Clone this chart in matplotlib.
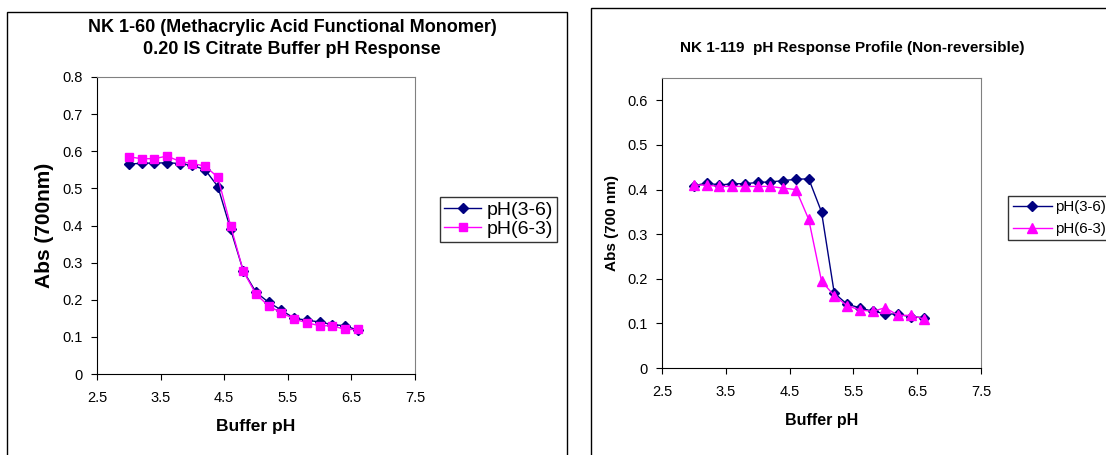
import matplotlib.pyplot as plt
from matplotlib.patches import Rectangle

plt.rcParams['font.family'] = ['Liberation Sans', 'DejaVu Sans']

ph = [3.0, 3.2, 3.4, 3.6, 3.8, 4.0, 4.2, 4.4, 4.6, 4.8, 5.0, 5.2, 5.4, 5.6, 5.8, 6.0, 6.2, 6.4, 6.6]

# NK 1-60
nk60_up = [0.565, 0.568, 0.568, 0.569, 0.567, 0.562, 0.55, 0.505, 0.39, 0.278, 0.22,
           0.193, 0.172, 0.15, 0.145, 0.14, 0.133, 0.13, 0.118]
nk60_down = [0.585, 0.58, 0.58, 0.587, 0.573, 0.567, 0.56, 0.53, 0.4, 0.277, 0.215,
             0.183, 0.165, 0.148, 0.138, 0.13, 0.13, 0.12, 0.12]

# NK 1-119
nk119_up = [0.408, 0.415, 0.41, 0.413, 0.413, 0.416, 0.417, 0.42, 0.423, 0.424, 0.35,
            0.168, 0.143, 0.135, 0.127, 0.122, 0.12, 0.115, 0.113]
nk119_down = [0.41, 0.41, 0.407, 0.407, 0.407, 0.407, 0.407, 0.403, 0.4, 0.333, 0.195,
              0.162, 0.14, 0.13, 0.127, 0.135, 0.118, 0.118, 0.11]

xticks = [2.5, 3.5, 4.5, 5.5, 6.5, 7.5]
navy = '#000080'
pink = '#FF00FF'

W, H = 1106, 455
fig = plt.figure(figsize=(W / 100, H / 100), dpi=100)

# panel frames
fig.patches.append(Rectangle((7 / W, -0.1), 560 / W, 1.1 - 12 / H, transform=fig.transFigure,
                             fill=False, edgecolor='black', lw=1))
fig.patches.append(Rectangle((591 / W, -0.1), 600 / W, 1.1 - 8 / H, transform=fig.transFigure,
                             fill=False, edgecolor='black', lw=1))


def style(ax, xpad):
    for s in ['top', 'right']:
        ax.spines[s].set_color('#808080')
    for s in ['left', 'bottom']:
        ax.spines[s].set_color('black')
    ax.tick_params(direction='out', length=4, width=0.8, labelsize=10.5)
    ax.tick_params(axis='x', pad=xpad)
    ax.tick_params(axis='y', pad=6)
    ax.set_xlim(2.5, 7.5)
    ax.set_xticks(xticks)
    ax.set_xticklabels(['2.5', '3.5', '4.5', '5.5', '6.5', '7.5'])


# left chart
ax1 = fig.add_axes([97 / W, 1 - 374 / H, (415 - 97) / W, (374 - 77) / H])
ax1.plot(ph, nk60_up, color=navy, marker='D', ms=5.5, lw=1, label='pH(3-6)')
ax1.plot(ph, nk60_down, color=pink, marker='s', ms=6, lw=1, label='pH(6-3)')
style(ax1, 8)
ax1.set_ylim(0, 0.8)
ax1.set_yticks([0, 0.1, 0.2, 0.3, 0.4, 0.5, 0.6, 0.7, 0.8])
ax1.set_yticklabels(['0', '0.1', '0.2', '0.3', '0.4', '0.5', '0.6', '0.7', '0.8'])
ax1.set_xlabel('Buffer pH', fontsize=12.5, fontweight='bold', labelpad=10)
ax1.set_ylabel('Abs (700nm)', fontsize=15, fontweight='bold', labelpad=6)
fig.text(292 / W, 1 - 27 / H, 'NK 1-60 (Methacrylic Acid Functional Monomer)',
         ha='center', va='center', fontsize=13, fontweight='bold')
fig.text(292 / W, 1 - 49 / H, '0.20 IS Citrate Buffer pH Response',
         ha='center', va='center', fontsize=13, fontweight='bold')
ax1.legend(loc='center left', bbox_to_anchor=(1.08, 0.52), fontsize=14, frameon=True,
           fancybox=False, edgecolor='black', handlelength=1.9, borderpad=0.2,
           handletextpad=0.3, labelspacing=0.1, borderaxespad=0)

# right chart
ax2 = fig.add_axes([662 / W, 1 - 368 / H, (981 - 662) / W, (368 - 78) / H])
ax2.plot(ph, nk119_up, color=navy, marker='D', ms=5.5, lw=1, label='pH(3-6)')
ax2.plot(ph, nk119_down, color=pink, marker='^', ms=6.5, lw=1, label='pH(6-3)')
style(ax2, 8)
ax2.set_ylim(0, 0.65)
ax2.set_yticks([0, 0.1, 0.2, 0.3, 0.4, 0.5, 0.6])
ax2.set_yticklabels(['0', '0.1', '0.2', '0.3', '0.4', '0.5', '0.6'])
ax2.set_xlabel('Buffer pH', fontsize=11.5, fontweight='bold', labelpad=10)
ax2.set_ylabel('Abs (700 nm)', fontsize=11, fontweight='bold', labelpad=6)
fig.text(852 / W, 1 - 48 / H, 'NK 1-119  pH Response Profile (Non-reversible)',
         ha='center', va='center', fontsize=11, fontweight='bold')
ax2.legend(loc='center left', bbox_to_anchor=(1.085, 0.517), fontsize=10.8, frameon=True,
           fancybox=False, edgecolor='black', handlelength=2.6, borderpad=0.3,
           handletextpad=0.2, labelspacing=0.5, borderaxespad=0)

fig.savefig('out.png', dpi=100)
